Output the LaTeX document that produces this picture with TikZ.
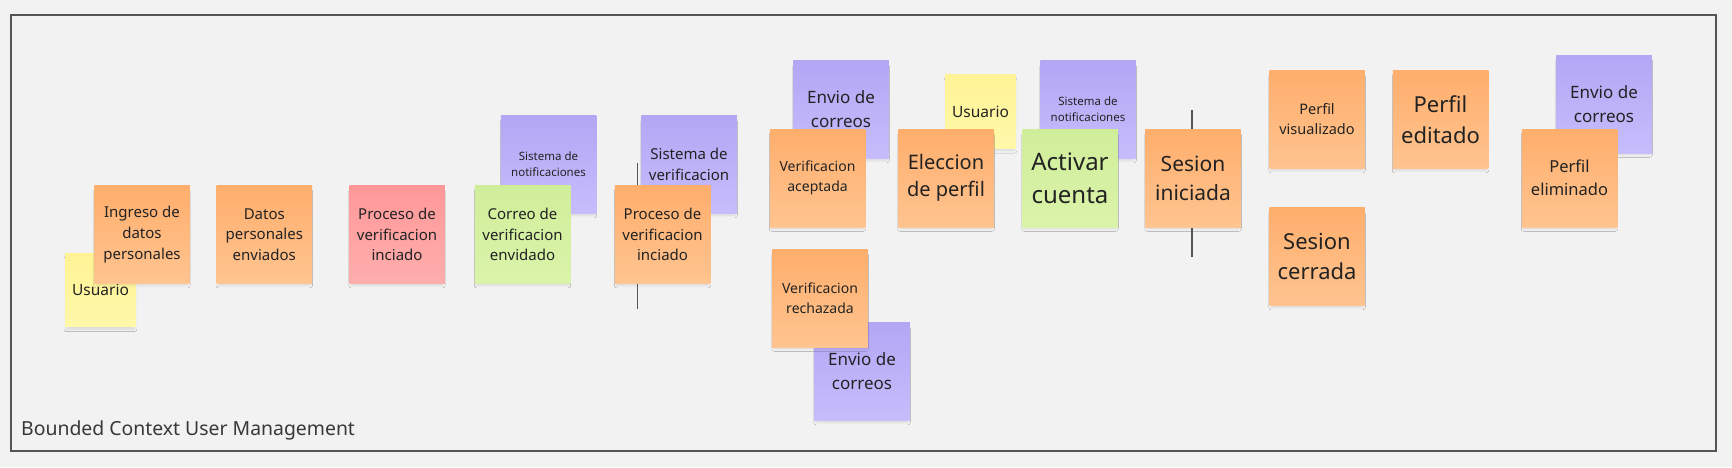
\documentclass[tikz,border=0pt]{standalone}
\usepackage{fontspec}
\setmainfont{Noto Sans}
\usetikzlibrary{shadows.blur}
\definecolor{bg}{HTML}{F2F2F2}
\definecolor{framec}{HTML}{555555}
\definecolor{ink}{HTML}{222222}
\definecolor{orT}{HTML}{FFAE6C}
\definecolor{orB}{HTML}{FFC490}
\definecolor{puT}{HTML}{B3A6F5}
\definecolor{puB}{HTML}{C7BDFC}
\definecolor{yeT}{HTML}{FFF395}
\definecolor{yeB}{HTML}{FFF8AA}
\definecolor{grT}{HTML}{D0EE9A}
\definecolor{grB}{HTML}{DAF3AA}
\definecolor{reT}{HTML}{FF9898}
\definecolor{reB}{HTML}{FFAEAE}
\newcommand\fsz[2]{\fontsize{#1pt}{#2pt}\selectfont}
\tikzset{
  note/.style={rectangle, minimum width=95.5pt, minimum height=98pt, inner sep=1pt,
    align=center, text=ink,
    blur shadow={shadow xshift=0pt, shadow yshift=-4pt, shadow opacity=10, shadow scale=0.96, shadow blur radius=2.5pt}},
  orangenote/.style={note, top color=orT, bottom color=orB},
  purplenote/.style={note, top color=puT, bottom color=puB},
  yellownote/.style={note, top color=yeT, bottom color=yeB, minimum width=71pt, minimum height=73.5pt},
  greennote/.style={note, top color=grT, bottom color=grB},
  rednote/.style={note, top color=reT, bottom color=reB},
  divider/.style={draw=framec, line width=1.2pt},
}
\begin{document}
\begin{tikzpicture}[x=1pt,y=-1pt]
\fill[bg] (0,0) rectangle (1732,467);
\useasboundingbox (0,0) rectangle (1732,467);
\draw[framec, line width=1.5pt] (11,15) rectangle (1716,451);
\node[anchor=base west, text=ink!90, font=\fsz{19.4}{24}, inner sep=0pt] (title) at (21,435) {Bounded Context User Management};

% divider lines
\coordinate (l1a) at (637.4,163);
\coordinate (l1b) at (637.4,309);
\coordinate (l2a) at (1192,110);
\coordinate (l2b) at (1192,257);
\draw[divider] (l1a) -- (l1b);
\draw[divider] (l2a) -- (l2b);

% notes
\node[yellownote, font=\fsz{15.5}{20}] (usuario1) at (100.5,290) {Usuario};
\node[orangenote, font=\fsz{15}{20.7}] (ingreso) at (142,234.5) {Ingreso de\\datos\\personales};
\node[orangenote, font=\fsz{15}{20.7}] (datos) at (264.3,234.5) {Datos\\personales\\enviados};
\node[rednote, font=\fsz{15}{20.7}] (proceso1) at (397,234.5) {Proceso de\\verificacion\\inciado};
\node[purplenote, font=\fsz{11.5}{16}] (notif1) at (548.5,164.5) {Sistema de\\notificaciones};
\node[greennote, font=\fsz{15}{20.7}] (correo) at (522.5,234.5) {Correo de\\verificacion\\envidado};
\node[purplenote, font=\fsz{15}{20.7}] (sisverif) at (689,164.5) {Sistema de\\verificacion};
\node[orangenote, font=\fsz{15}{20.7}] (proceso2) at (662.5,234.5) {Proceso de\\verificacion\\inciado};
\node[purplenote, font=\fsz{17}{24}] (envio1) at (841,109.5) {Envio de\\correos};
\node[orangenote, font=\fsz{14}{20.5}] (aceptada) at (817.5,178) {Verificacion\\aceptada};
\node[purplenote, font=\fsz{17}{24}] (envio2) at (862,371.5) {Envio de\\correos};
\node[orangenote, font=\fsz{14}{20}] (rechazada) at (820,298) {Verificacion\\rechazada};
\node[yellownote, font=\fsz{15.5}{20}] (usuario2) at (980.5,111.5) {Usuario};
\node[orangenote, font=\fsz{20}{27.5}] (eleccion) at (946,178) {Eleccion\\de perfil};
\node[purplenote, font=\fsz{11.5}{16}] (notif2) at (1088,109.5) {Sistema de\\notificaciones};
\node[greennote, font=\fsz{24}{33}] (activar) at (1070,178) {Activar\\cuenta};
\node[orangenote, font=\fsz{21}{29}] (sesion1) at (1193,178) {Sesion\\iniciada};
\node[orangenote, font=\fsz{14.5}{20}] (perfilvis) at (1317,119.5) {Perfil\\visualizado};
\node[orangenote, font=\fsz{22}{30.7}] (perfiled) at (1440.5,119.5) {Perfil\\editado};
\node[orangenote, font=\fsz{22}{30.7}] (sesioncerr) at (1317,256.5) {Sesion\\cerrada};
\node[purplenote, font=\fsz{17}{23.5}] (envio3) at (1604,104) {Envio de\\correos};
\node[orangenote, font=\fsz{16.5}{23}] (eliminado) at (1569.5,178) {Perfil\\eliminado};
\end{tikzpicture}
\end{document}
